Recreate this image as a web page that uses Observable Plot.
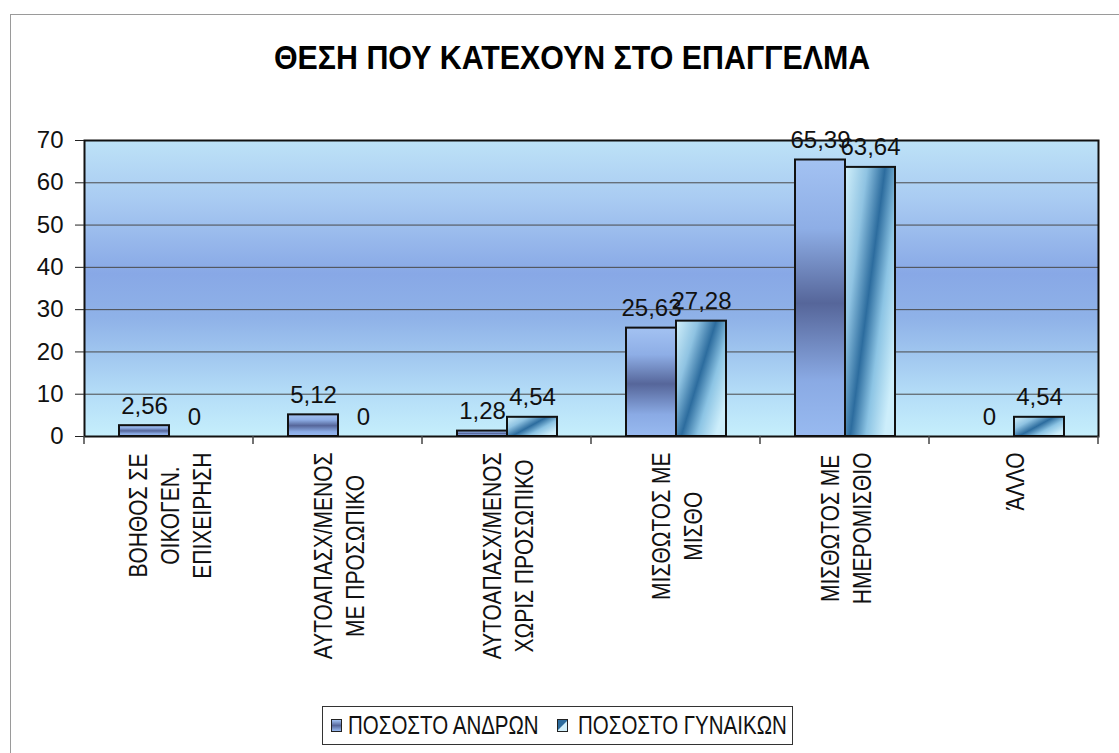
<!DOCTYPE html>
<html><head><meta charset="utf-8">
<script src="https://cdn.jsdelivr.net/npm/d3@7"></script>
<script src="https://cdn.jsdelivr.net/npm/@observablehq/plot@0.6"></script>
<style>
body{margin:0;background:#fff;font-family:"Liberation Sans",Arial,sans-serif;}
#wrap{position:relative;width:1119px;height:753px;overflow:hidden;background:#fff;}
#border{position:absolute;left:10px;top:14px;width:1200px;height:800px;border-top:1.5px solid #9a9a9a;border-left:1.5px solid #9a9a9a;}
#title{position:absolute;left:274px;top:39px;white-space:nowrap;font-weight:bold;font-size:33px;color:#000;transform:scaleX(0.92);transform-origin:left center;}
#chart{position:absolute;left:0;top:0;}
#legend{position:absolute;left:322px;top:706px;width:469px;height:37px;border:1.5px solid #333;background:#fff;color:#111;}
.sw{position:absolute;top:12px;width:9px;height:11px;border:1.5px solid #222;}
#sw1{left:8px;background:linear-gradient(to bottom,#a3c2f2 0%,#56669a 50%,#98baf0 100%);}
#sw2{left:234px;background:linear-gradient(135deg,#2c6c9e 0%,#2c6c9e 45%,#d2f0fb 55%,#d2f0fb 100%);}
.lt{position:absolute;top:4px;white-space:nowrap;font-size:25px;line-height:29px;transform:scaleX(0.82);transform-origin:left center;}
#l1{left:25px;}
#l2{left:255px;}
</style></head>
<body>
<svg width="0" height="0" style="position:absolute">
<defs>
<linearGradient id="bgGrad" x1="0" y1="0" x2="0" y2="1">
 <stop offset="0" stop-color="#bde2f7"/>
 <stop offset="0.2" stop-color="#a9cbf2"/>
 <stop offset="0.45" stop-color="#88a8e6"/>
 <stop offset="0.6" stop-color="#8fb2e8"/>
 <stop offset="0.85" stop-color="#b3dcf7"/>
 <stop offset="1" stop-color="#c6effc"/>
</linearGradient>
<linearGradient id="gMen" x1="0" y1="0" x2="0" y2="1">
 <stop offset="0" stop-color="#a3c2f2"/>
 <stop offset="0.25" stop-color="#8eaee6"/>
 <stop offset="0.52" stop-color="#56669a"/>
 <stop offset="0.8" stop-color="#8aaae4"/>
 <stop offset="1" stop-color="#98baf0"/>
</linearGradient>
<linearGradient id="gWomen" x1="0" y1="0" x2="1" y2="0.7">
 <stop offset="0" stop-color="#d2f0fb"/>
 <stop offset="0.3" stop-color="#8fc3e2"/>
 <stop offset="0.54" stop-color="#2c6c9e"/>
 <stop offset="0.75" stop-color="#8cc4e4"/>
 <stop offset="1" stop-color="#cdeefb"/>
</linearGradient>
</defs>
</svg>
<div id="wrap">
 <div id="border"></div>
 <div id="title">ΘΕΣΗ ΠΟΥ ΚΑΤΕΧΟΥΝ ΣΤΟ ΕΠΑΓΓΕΛΜΑ</div>
 <div id="chart"></div>
 <div id="legend"><span class="sw" id="sw1"></span><span class="lt" id="l1"></span><span class="sw" id="sw2"></span><span class="lt" id="l2"></span></div>
</div>
<script>
const categories = [
  "ΒΟΗΘΟΣ ΣΕ\nΟΙΚΟΓΕΝ.\nΕΠΙΧΕΙΡΗΣΗ",
  "ΑΥΤΟΑΠΑΣΧ/ΜΕΝΟΣ\nΜΕ ΠΡΟΣΩΠΙΚΟ",
  "ΑΥΤΟΑΠΑΣΧ/ΜΕΝΟΣ\nΧΩΡΙΣ ΠΡΟΣΩΠΙΚΟ",
  "ΜΙΣΘΩΤΟΣ ΜΕ\nΜΙΣΘΟ",
  "ΜΙΣΘΩΤΟΣ ΜΕ\nΗΜΕΡΟΜΙΣΘΙΟ",
  "ΆΛΛΟ"
];
const seriesNames = ["ΠΟΣΟΣΤΟ ΑΝΔΡΩΝ", "ΠΟΣΟΣΤΟ ΓΥΝΑΙΚΩΝ"];
const menValues = [2.56, 5.12, 1.28, 25.63, 65.39, 0];
const womenValues = [0, 0, 4.54, 27.28, 63.64, 4.54];
const yTicks = [0, 10, 20, 30, 40, 50, 60, 70];
const gridTicks = [10, 20, 30, 40, 50, 60];

document.getElementById("l1").textContent = seriesNames[0];
document.getElementById("l2").textContent = seriesNames[1];

const menRows = categories.map((c, i) => ({cat: c, series: seriesNames[0], value: menValues[i]}));
const womenRows = categories.map((c, i) => ({cat: c, series: seriesNames[1], value: womenValues[i]}));
const rows = menRows.concat(womenRows);
const fmt = v => String(v).replace(".", ",");

const chart = Plot.plot({
  width: 1119, height: 700,
  marginLeft: 82, marginRight: 20, marginTop: 140, marginBottom: 264,
  style: {fontFamily: "'Liberation Sans', Arial, sans-serif", background: "transparent", color: "#111"},
  fx: {domain: categories, paddingInner: 0, paddingOuter: 0, label: null},
  x: {domain: seriesNames, paddingInner: 0, paddingOuter: 0.667, axis: null},
  y: {domain: [0, 70], axis: null},
  marks: [
    Plot.frame({fill: "url(#bgGrad)", stroke: "none", facet: "super"}),
    Plot.ruleY(gridTicks, {stroke: "#4a4a4a", strokeWidth: 1}),
    Plot.barY(menRows, {fx: "cat", x: "series", y: "value", fill: "url(#gMen)", stroke: "#111", strokeWidth: 2}),
    Plot.barY(womenRows, {fx: "cat", x: "series", y: "value", fill: "url(#gWomen)", stroke: "#111", strokeWidth: 2}),
    Plot.frame({stroke: "#111", strokeWidth: 2, facet: "super"}),
    Plot.axisY({ticks: yTicks, tickSize: 9, tickPadding: 12, fontSize: 24, label: null, anchor: "left", stroke: "#222"}),
    Plot.axisFx({anchor: "bottom", tickSize: 0, tickPadding: 16, tickRotate: -90, fontSize: 25, label: null, lineHeight: 1.28}),
    Plot.text(rows, {fx: "cat", x: "series", y: "value", text: d => fmt(d.value), lineAnchor: "bottom", dy: -12, fontSize: 24, fill: "#111"})
  ]
});
document.getElementById("chart").appendChild(chart);

// category labels: narrow glyphs, lines centred on the longest line
chart.querySelectorAll("text").forEach(t => {
  const tr = t.getAttribute("transform");
  if (!tr || !tr.includes("rotate")) return;
  t.setAttribute("transform", tr + " scale(0.84,1)");
  const spans = t.querySelectorAll("tspan");
  if (spans.length > 1) {
    let w = 0;
    spans.forEach(s => { w = Math.max(w, s.getComputedTextLength()); });
    t.setAttribute("text-anchor", "middle");
    spans.forEach(s => s.setAttribute("x", -w / 2));
  }
});

// category boundary tick marks below the axis, placed with the chart's own fx and y scales
const fxScale = chart.scale("fx");
const yScale = chart.scale("y");
const y0 = yScale.apply(0);
const edges = categories.map(c => fxScale.apply(c));
edges.push(fxScale.apply(categories[categories.length - 1]) + fxScale.bandwidth);
const ns = "http://www.w3.org/2000/svg";
const g = document.createElementNS(ns, "g");
g.setAttribute("stroke", "#444");
g.setAttribute("stroke-width", "1.5");
edges.forEach(x => {
  const l = document.createElementNS(ns, "line");
  l.setAttribute("x1", x); l.setAttribute("x2", x);
  l.setAttribute("y1", y0); l.setAttribute("y2", y0 + 8);
  g.appendChild(l);
});
chart.appendChild(g);
</script>
</body></html>
